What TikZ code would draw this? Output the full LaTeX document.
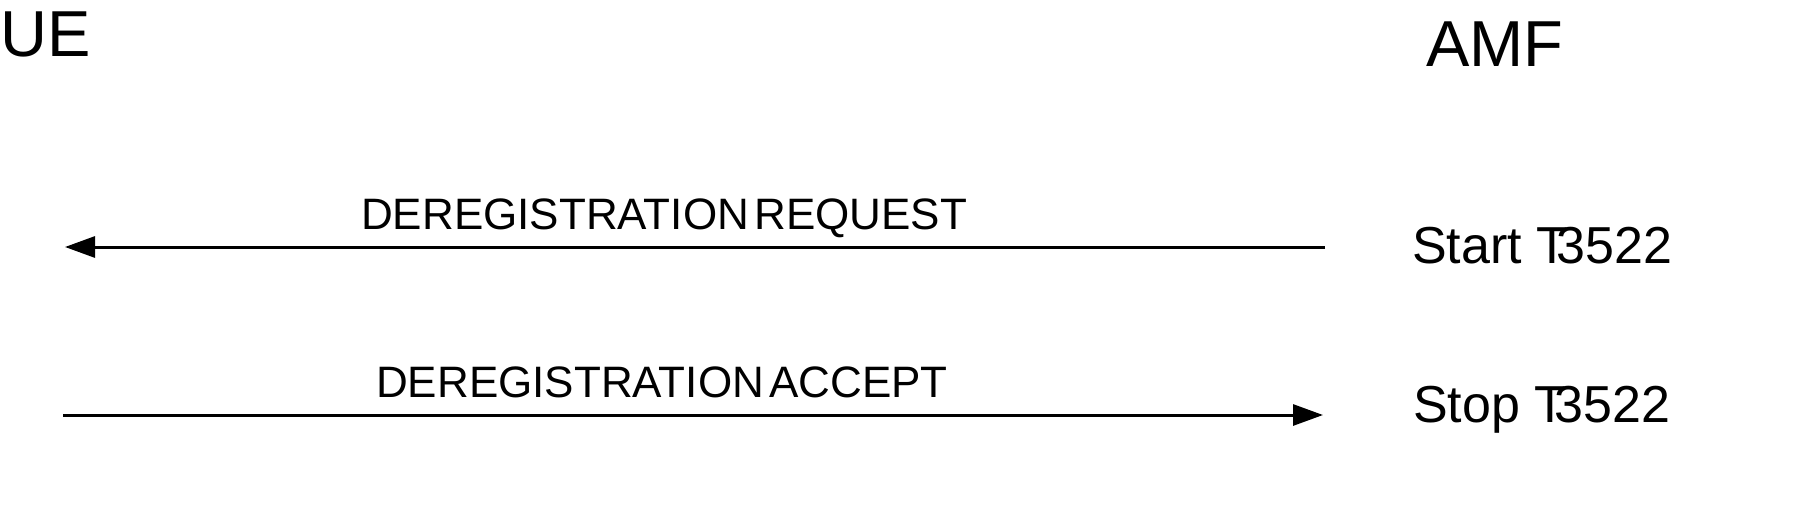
\documentclass[tikz,border=0pt]{standalone}
\usepackage{fontspec}
\setmainfont{Liberation Sans}
\usetikzlibrary{positioning,arrows.meta}
\newcommand\tightwords{\spaceskip=0.12em\relax}

\begin{document}
\begin{tikzpicture}
    [x=1pt, y=-1pt,
    entity/.style={
        anchor=base west,
        inner sep=0pt,
        font=\fontsize{65}{65}\selectfont
    },
    msglabel/.style={
        anchor=base west,
        inner sep=0pt,
        font=\fontsize{44}{44}\selectfont
    },
    timer/.style={
        anchor=base west,
        inner sep=0pt,
        font=\fontsize{52}{52}\selectfont
    },
    msg/.style={
        black,
        line width=3pt,
        -{Triangle[length=30pt,width=21pt]}
    }
    ]
    \useasboundingbox (0,0) rectangle (1806,514);
    \node[entity] (ue) at (0,56) {UE};
    \node[entity] (amf) at (1426,66.5) {AMF};
    \coordinate (req-from) at (1325,247);
    \coordinate (req-to) at (65,247);
    \coordinate (acc-from) at (63,415);
    \coordinate (acc-to) at (1323,415);
    \draw[msg] (req-from) -- (req-to);
    \draw[msg] (acc-from) -- (acc-to);
    \node[msglabel] (req) at (361,229) {\tightwords DEREGISTRATION REQUEST};
    \node[msglabel] (acc) at (376,397.5) {\tightwords DEREGISTRATION ACCEPT};
    \node[timer] (start) at (1412,263) {Start T\kern-0.23em3522};
    \node[timer] (stop) at (1413,422) {Stop T\kern-0.23em3522};
\end{tikzpicture}
\end{document}
